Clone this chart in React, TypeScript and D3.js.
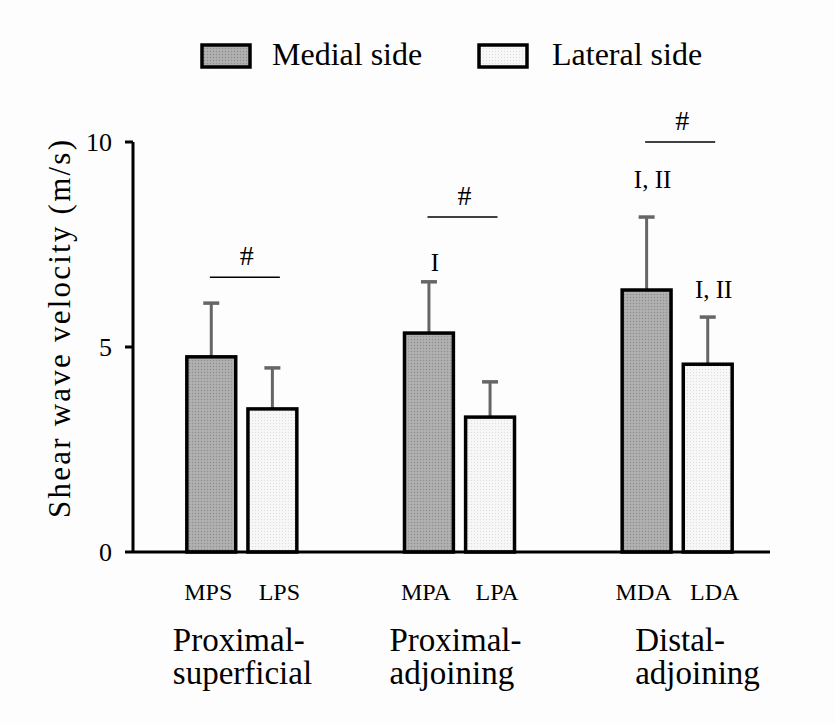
import React from 'react';
import * as d3 from 'd3';

// groups along the x axis
const groups = ['Proximal-superficial', 'Proximal-adjoining', 'Distal-adjoining'];
const groupLines = [['Proximal-', 'superficial'], ['Proximal-', 'adjoining'], ['Distal-', 'adjoining']];
const medialLabels = ['MPS', 'MPA', 'MDA'];
const lateralLabels = ['LPS', 'LPA', 'LDA'];

// shear wave velocity (m/s), mean and SD
const medialMean = [4.76, 5.34, 6.39];
const medialSD = [1.31, 1.25, 1.78];
const lateralMean = [3.49, 3.29, 4.58];
const lateralSD = [1.0, 0.86, 1.15];

// significance marks
const hashLevel = [6.7, 8.17, 10.0];
const medialNote = ['', 'I', 'I, II'];
const medialNoteAt = [0, 6.85, 8.88];
const lateralNote = ['', '', 'I, II'];
const lateralNoteAt = [0, 0, 6.2];

const yTicks = [0, 5, 10];

const FONT = '"Liberation Serif", "Times New Roman", serif';

export default function App() {
  const width = 835;
  const height = 724;

  const y = d3.scaleLinear().domain([0, 10]).range([552, 142]);
  const x = d3.scaleBand().domain(groups).range([133, 786]).padding(0);
  const side = d3.scaleBand().domain(['medial', 'lateral']).range([-55, 55]).paddingInner(0.2);
  const bw = side.bandwidth();
  const labelDx = [-69, -70, -42];

  const series = [
    { key: 'medial', mean: medialMean, sd: medialSD, labels: medialLabels, note: medialNote, noteAt: medialNoteAt, fill: 'url(#medialDots)', textDx: -3 },
    { key: 'lateral', mean: lateralMean, sd: lateralSD, labels: lateralLabels, note: lateralNote, noteAt: lateralNoteAt, fill: 'url(#lateralDots)', textDx: 7 },
  ];

  return (
    <svg width={width} height={height} style={{ position: 'absolute', left: 0, top: 0, background: '#fdfdfd' }} fontFamily={FONT}>
      <defs>
        <pattern id="medialDots" width="3" height="3" patternUnits="userSpaceOnUse">
          <rect width="3" height="3" fill="#ababab" />
          <rect width="1" height="1" fill="#8e8e8e" />
          <rect x="1.5" y="1.5" width="1" height="1" fill="#c4c4c4" />
        </pattern>
        <pattern id="lateralDots" width="3" height="3" patternUnits="userSpaceOnUse">
          <rect width="3" height="3" fill="#f7f7f7" />
          <rect width="1" height="1" fill="#dedede" />
        </pattern>
      </defs>

      {/* legend */}
      <rect x={202} y={45} width={48} height={22} fill="url(#medialDots)" stroke="#000" strokeWidth={3.5} />
      <text x={272} y={65} fontSize={32}>Medial side</text>
      <rect x={479} y={45} width={48} height={22} fill="url(#lateralDots)" stroke="#000" strokeWidth={3.5} />
      <text x={552} y={65} fontSize={32}>Lateral side</text>

      {/* y axis */}
      <line x1={133} x2={133} y1={y(10)} y2={y(0)} stroke="#000" strokeWidth={3} />
      {yTicks.map((t) => (
        <g key={t}>
          <line x1={125} x2={133} y1={y(t)} y2={y(t)} stroke="#000" strokeWidth={3} />
          <text x={112} y={y(t)} dy="0.35em" textAnchor="end" fontSize={26}>{t}</text>
        </g>
      ))}
      <text
        transform="translate(59, 329) rotate(-90)"
        textAnchor="middle"
        dy="0.35em"
        fontSize={31}
        textLength={378}
        lengthAdjust="spacing"
      >
        Shear wave velocity (m/s)
      </text>

      {/* bars */}
      {groups.map((g, i) => {
        const cx = (x(g) as number) + x.bandwidth() / 2;
        return (
          <g key={g}>
            {series.map((s) => {
              const bx = cx + (side(s.key) as number);
              const mid = bx + bw / 2;
              const top = y(s.mean[i]);
              const errTop = y(s.mean[i] + s.sd[i]);
              return (
                <g key={s.key}>
                  <line x1={mid} x2={mid} y1={top} y2={errTop} stroke="#666" strokeWidth={3} />
                  <line x1={mid - 8} x2={mid + 8} y1={errTop} y2={errTop} stroke="#666" strokeWidth={3.5} />
                  <rect x={bx} y={top} width={bw} height={y(0) - top} fill={s.fill} stroke="#000" strokeWidth={3.5} />
                  {s.note[i] && (
                    <text x={mid + 6} y={y(s.noteAt[i])} textAnchor="middle" fontSize={25}>{s.note[i]}</text>
                  )}
                  <text x={mid + s.textDx} y={600} textAnchor="middle" fontSize={24}>{s.labels[i]}</text>
                </g>
              );
            })}
            {/* # bracket */}
            <line x1={cx + 3 - 35} x2={cx + 3 + 35} y1={y(hashLevel[i])} y2={y(hashLevel[i])} stroke="#000" strokeWidth={1.5} />
            <text x={cx + 5} y={y(hashLevel[i]) - 12} textAnchor="middle" fontSize={28}>#</text>
            {groupLines[i].map((ln, j) => (
              <text key={j} x={cx + labelDx[i]} y={651 + j * 33} fontSize={33}>{ln}</text>
            ))}
          </g>
        );
      })}

      {/* x axis baseline */}
      <line x1={133} x2={770} y1={y(0)} y2={y(0)} stroke="#000" strokeWidth={3} />
    </svg>
  );
}
